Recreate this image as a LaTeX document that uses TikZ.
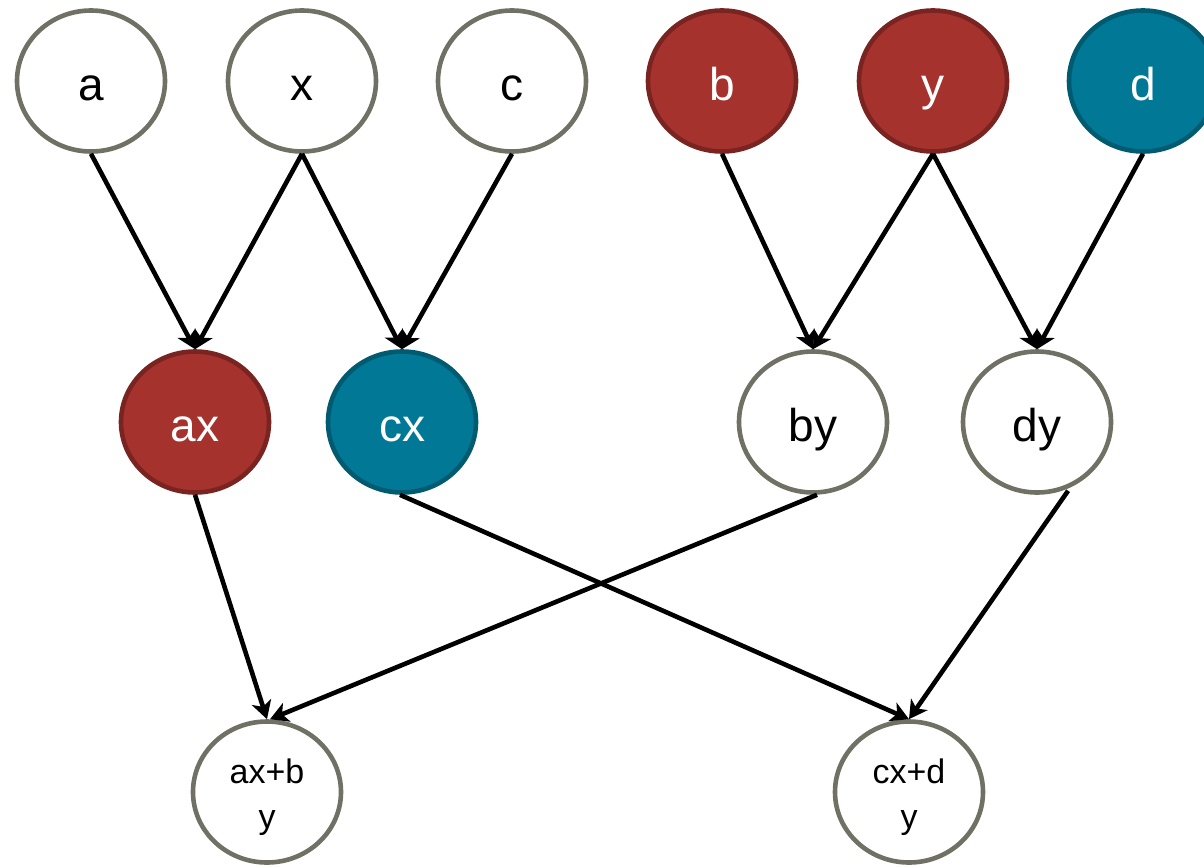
\documentclass[tikz,border=0pt]{standalone}
\usepackage{fontspec}
\setmainfont{Liberation Sans}
\usetikzlibrary{arrows.meta,shapes.geometric}
\definecolor{ringgrey}{RGB}{112,113,100}
\definecolor{redfill}{RGB}{166,50,46}
\definecolor{redring}{RGB}{122,36,33}
\definecolor{tealfill}{RGB}{1,120,150}
\definecolor{tealring}{RGB}{0,91,112}
\begin{document}
\begin{tikzpicture}[x=1pt,y=-1pt,
  vertex/.style={ellipse,minimum width=148pt,minimum height=141pt,inner sep=0pt,
    line width=4.6pt,draw=ringgrey,fill=white,text=black},
  big/.style={font=\fontsize{46}{54}\selectfont,text height=39pt,text depth=0pt},
  small/.style={font=\fontsize{34}{45}\selectfont,align=center},
  redv/.style={fill=redfill,draw=redring,text=white},
  tealv/.style={fill=tealfill,draw=tealring,text=white},
  conn/.style={line width=4.6pt,-{Stealth[length=18pt,width=20pt,inset=5pt]}}]
\clip (0,0) rectangle (1204,867);
\useasboundingbox (0,0) rectangle (1204,867);
% inputs
\node[vertex,big] (a) at (91,81) {a};
\node[vertex,big] (x) at (302,81) {x};
\node[vertex,big] (c) at (512,81) {c};
\node[vertex,big,redv] (b) at (722,81) {b};
\node[vertex,big,redv] (y) at (933,81) {y};
\node[vertex,big,tealv] (d) at (1143,81) {d};
% products
\node[vertex,big,redv] (ax) at (195,422) {ax};
\node[vertex,big,tealv] (cx) at (402,422) {cx};
\node[vertex,big] (by) at (813,422) {by};
\node[vertex,big] (dy) at (1037,422) {dy};
% sums
\node[vertex,small] (axby) at (267,792) {\rule{0pt}{36pt}ax+b\\y};
\node[vertex,small] (cxdy) at (909,792) {\rule{0pt}{36pt}cx+d\\y};
% edges
\draw[conn] (a.south) -- (ax.north);
\draw[conn] (x.south) -- (ax.north);
\draw[conn] (x.south) -- (cx.north);
\draw[conn] (c.south) -- (cx.north);
\draw[conn] (b.south) -- (by.north);
\draw[conn] (y.south) -- (by.north);
\draw[conn] (y.south) -- (dy.north);
\draw[conn] (d.south) -- (dy.north);
\draw[conn] (ax.south) -- (axby.north);
\draw[conn] ([xshift=4pt]by.south) -- ([xshift=3pt]axby.north);
\draw[conn] ([xshift=-2pt]cx.south) -- (cxdy.north);
\draw[conn,shorten <=4pt] (dy.-63) -- (cxdy.north);
\end{tikzpicture}
\end{document}
